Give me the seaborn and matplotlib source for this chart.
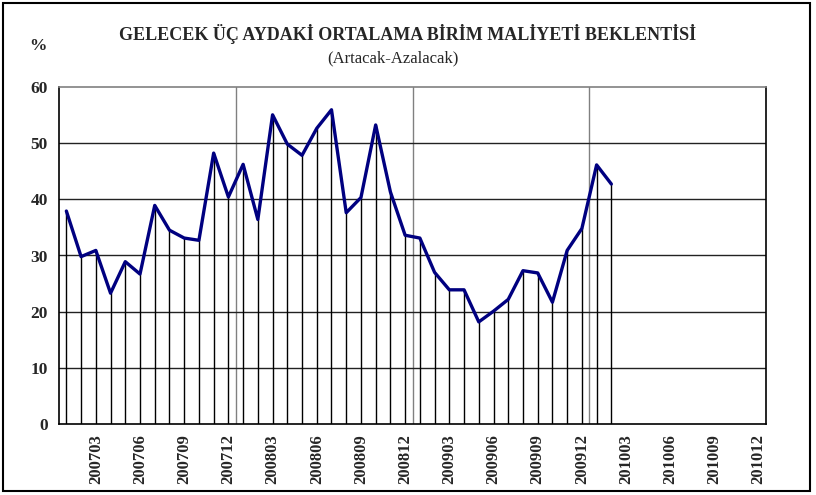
import matplotlib
matplotlib.use("Agg")
import matplotlib.pyplot as plt
import matplotlib.patches as mpatches
import seaborn as sns
import pandas as pd
import numpy as np

# ---- data ----
months = [f"{y}{m:02d}" for y in (2007, 2008, 2009, 2010) for m in range(1, 13)]
values = [37.9, 29.8, 30.9, 23.3, 28.9, 26.7, 38.9, 34.5, 33.1, 32.7, 48.2, 40.4,
          46.2, 36.4, 55.0, 49.8, 47.8, 52.6, 55.9, 37.6, 40.3, 53.2, 41.3, 33.6,
          33.1, 27.0, 23.9, 23.9, 18.2, 20.1, 22.2, 27.3, 26.9, 21.7, 30.9, 34.8,
          46.1, 42.7]
tick_labels = ["200703", "200706", "200709", "200712", "200803", "200806", "200809",
               "200812", "200903", "200906", "200909", "200912", "201003", "201006",
               "201009", "201012"]
title = "GELECEK ÜÇ AYDAKİ ORTALAMA BİRİM MALİYETİ BEKLENTİSİ"
subtitle = "(Artacak-Azalacak)"

df = pd.DataFrame({"month": months[:len(values)], "value": values})
df["pos"] = [months.index(m) for m in df["month"]]

sns.set_theme(style="white")
plt.rcParams["font.family"] = ["Liberation Serif", "DejaVu Serif"]

fig = plt.figure(figsize=(8.16, 4.95), dpi=100)
ax = fig.add_axes([59/816, 1-424.3/495, (766-59)/816, (424.3-86.7)/495])

# major vertical gridlines at year boundaries
for b in range(12, len(months), 12):
    ax.axvline(b - 0.5, color="#808080", lw=1.0, zorder=1)
# horizontal gridlines
for yv in range(10, 60, 10):
    ax.axhline(yv, color="#222222", lw=1.0, zorder=1)

# drop lines
ax.vlines(df["pos"], 0, df["value"], color="black", lw=1.0, zorder=2)

sns.lineplot(data=df, x="pos", y="value", ax=ax, color="#000080", lw=2.4,
             zorder=3, legend=False)

ax.set_xlim(-0.5, len(months) - 0.5)
ax.set_ylim(0, 60)
ax.set_yticks(range(0, 61, 10))
ax.set_yticklabels([str(v) for v in range(0, 61, 10)], fontweight="bold", fontsize=12.5)
ax.set_xticks([months.index(t) for t in tick_labels])
ax.set_xticklabels(tick_labels, rotation=90, fontweight="bold", fontsize=12)
ax.tick_params(axis="y", length=0, pad=8)
ax.tick_params(axis="x", length=0, pad=7)
ax.set_xlabel("")
ax.set_ylabel("")
for s in ax.spines.values():
    s.set_color("black")
    s.set_linewidth(1.2)
    s.set_visible(True)
ax.spines["top"].set_color("#808080")

fig.text(407.5/816, 1-34.5/495, title, ha="center", va="center", fontsize=13,
         fontweight="bold")
fig.text(393/816, 1-58/495, subtitle, ha="center", va="center", fontsize=12)
fig.text(38/816, 1-46/495, "%", ha="center", va="center", fontsize=12.5,
         fontweight="bold")

border = mpatches.Rectangle((3/816, 4/495), 807/816, 488/495, transform=fig.transFigure,
                            fill=False, edgecolor="black", lw=1.5)
fig.patches.append(border)

fig.savefig("out.png", dpi=100)
